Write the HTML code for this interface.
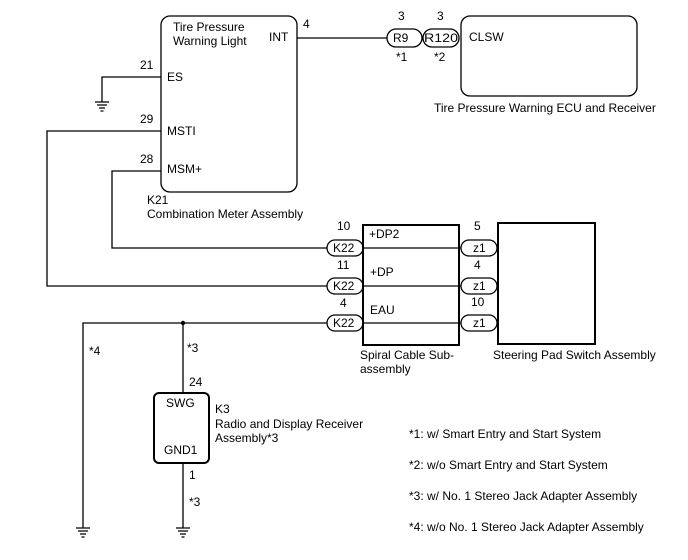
<!DOCTYPE html>
<html><head><style>
html,body{margin:0;padding:0;background:#fff;}
svg{display:block;font-family:"Liberation Sans",Arial,sans-serif;font-size:12px;}
</style></head><body>
<svg width="688" height="560" viewBox="0 0 688 560" xmlns="http://www.w3.org/2000/svg">
<g fill="none" stroke="#000" stroke-width="1.3">
<rect x="161" y="16" width="136" height="176" rx="9"/>
<rect x="461" y="16" width="176" height="80" rx="9"/>
<rect x="363" y="225" width="96" height="120" stroke-width="2"/>
<rect x="498" y="223" width="97" height="121" stroke-width="2"/>
<rect x="154" y="393" width="55" height="70" rx="5" stroke-width="2"/>
<path d="M297 38H387"/>
<path d="M161 77H102V102"/>
<path d="M161 131H47V286H327"/>
<path d="M161 171H112V248H327"/>
<path d="M83 528V323H327"/>
<path d="M183 323V393"/>
<path d="M183 463V528"/>
<path d="M363 248H461M363 286H461M363 323H461"/>
<rect x="387" y="29" width="35" height="18" rx="9"/>
<rect x="423" y="29" width="36" height="18" rx="9"/>
<rect x="327" y="240" width="36" height="16" rx="8"/>
<rect x="327" y="278" width="36" height="16" rx="8"/>
<rect x="327" y="315" width="36" height="16" rx="8"/>
<rect x="461" y="240" width="36" height="16" rx="8"/>
<rect x="461" y="278" width="36" height="16" rx="8"/>
<rect x="461" y="315" width="36" height="16" rx="8"/>
<path d="M95 102H109M97 105H107M99 108H105M100.5 111H103.5"/>
<path d="M76 528H90M78 531H88M80 534H86M81.5 537H84.5"/>
<path d="M176 528H190M178 531H188M180 534H186M181.5 537H184.5"/>
</g>
<circle cx="183" cy="323" r="2.2" fill="#000"/>
<g fill="#000">
<text x="173" y="31">Tire Pressure</text>
<text x="173" y="45">Warning Light</text>
<text x="269" y="41">INT</text>
<text x="303" y="28">4</text>
<text x="140" y="69">21</text>
<text x="167" y="81">ES</text>
<text x="140" y="123">29</text>
<text x="167" y="135">MSTI</text>
<text x="140" y="163">28</text>
<text x="167" y="173">MSM+</text>
<text x="147" y="204">K21</text>
<text x="147" y="218">Combination Meter Assembly</text>
<text x="398" y="20">3</text>
<text x="437" y="20">3</text>
<text x="393" y="42">R9</text>
<text x="424" y="42" textLength="34" lengthAdjust="spacingAndGlyphs">R120</text>
<text x="396" y="61">*1</text>
<text x="434" y="61">*2</text>
<text x="469" y="41">CLSW</text>
<text x="434" y="112">Tire Pressure Warning ECU and Receiver</text>
<text x="337" y="230">10</text>
<text x="337" y="269">11</text>
<text x="340" y="307">4</text>
<text x="333" y="252">K22</text>
<text x="333" y="290">K22</text>
<text x="333" y="327">K22</text>
<text x="369" y="238">+DP2</text>
<text x="370" y="276">+DP</text>
<text x="370" y="314">EAU</text>
<text x="474" y="230">5</text>
<text x="474" y="269">4</text>
<text x="471" y="306">10</text>
<text x="473" y="252">z1</text>
<text x="473" y="290">z1</text>
<text x="473" y="327">z1</text>
<text x="360" y="359">Spiral Cable Sub-</text>
<text x="360" y="373">assembly</text>
<text x="493" y="359">Steering Pad Switch Assembly</text>
<text x="89" y="355">*4</text>
<text x="187" y="352">*3</text>
<text x="189" y="386">24</text>
<text x="166" y="407">SWG</text>
<text x="164" y="454">GND1</text>
<text x="215" y="413">K3</text>
<text x="215" y="428">Radio and Display Receiver</text>
<text x="215" y="442">Assembly*3</text>
<text x="189" y="479">1</text>
<text x="189" y="506">*3</text>
<text x="409" y="438">*1: w/ Smart Entry and Start System</text>
<text x="409" y="469">*2: w/o Smart Entry and Start System</text>
<text x="409" y="500">*3: w/ No. 1 Stereo Jack Adapter Assembly</text>
<text x="409" y="531">*4: w/o No. 1 Stereo Jack Adapter Assembly</text>
</g>
</svg>
</body></html>
